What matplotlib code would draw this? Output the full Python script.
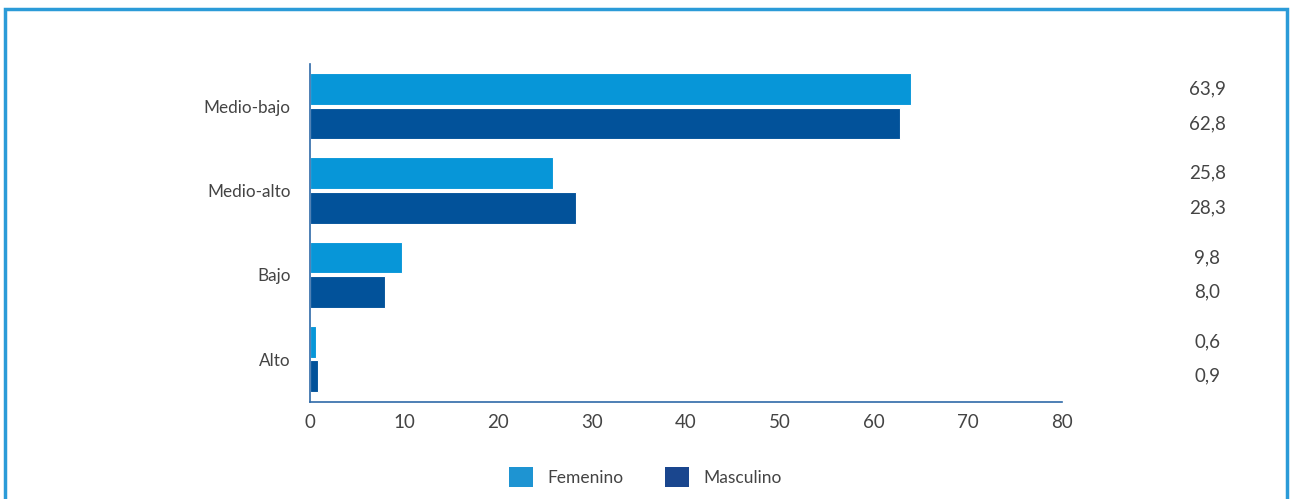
import matplotlib.pyplot as plt
import matplotlib.transforms as mtransforms
from matplotlib.patches import Rectangle, Patch
import numpy as np

plt.rcParams['font.family'] = ['Lato', 'DejaVu Sans']

categorias = ['Alto', 'Bajo', 'Medio-alto', 'Medio-bajo']
femenino = [0.6, 9.8, 25.8, 63.9]
masculino = [0.9, 8.0, 28.3, 62.8]
etiquetas_x = [0, 10, 20, 30, 40, 50, 60, 70, 80]

c_fem = '#0796d8'
c_masc = '#02529a'
texto = '#444444'

fig = plt.figure(figsize=(12.9, 4.99), dpi=100)
ax = fig.add_axes([0.2403, 0.1944, 0.5830, 0.6773])

y = np.arange(len(categorias))
h = 0.375
ax.barh(y + 0.205, femenino, height=h, color=c_fem, edgecolor='white', linewidth=0.8)
ax.barh(y - 0.205, masculino, height=h, color=c_masc, edgecolor='white', linewidth=0.8)

ax.set_xlim(0, 80)
ax.set_ylim(-0.51, 3.5)
ax.set_xticks(etiquetas_x)
ax.set_yticks(y)
ax.set_yticklabels(categorias)
ax.tick_params(axis='y', length=0, labelsize=12.3, labelcolor=texto, pad=14)
ax.tick_params(axis='x', length=0, labelsize=13.5, labelcolor=texto, pad=9)
for s in ['top', 'right']:
    ax.spines[s].set_visible(False)
for s in ['left', 'bottom']:
    ax.spines[s].set_color('#2f6aa8')
    ax.spines[s].set_linewidth(1.2)

# valores a la derecha
trans = mtransforms.blended_transform_factory(ax.transAxes, ax.transData)
for i in range(len(categorias)):
    ax.text(1.193, y[i] + 0.205, f'{femenino[i]:.1f}'.replace('.', ','), transform=trans,
            ha='center', va='center', fontsize=13.5, color=texto)
    ax.text(1.193, y[i] - 0.205, f'{masculino[i]:.1f}'.replace('.', ','), transform=trans,
            ha='center', va='center', fontsize=13.5, color=texto)

handles = [Patch(facecolor='#1e94d2', label='Femenino'),
           Patch(facecolor='#1a468e', label='Masculino')]
fig.legend(handles=handles, loc='center', bbox_to_anchor=(0.5, 0.044), ncol=2,
           frameon=False, fontsize=12.5, labelcolor=texto, handlelength=1.4,
           handleheight=1.4, handletextpad=0.8, columnspacing=2.4)

# marco
fig.patches.append(Rectangle((5 / 1290, -0.05), 1282 / 1290, 1.05 - 9 / 499,
                             transform=fig.transFigure, fill=False,
                             edgecolor='#2b9bd8', linewidth=2.5))

fig.savefig('out.png', dpi=100)
